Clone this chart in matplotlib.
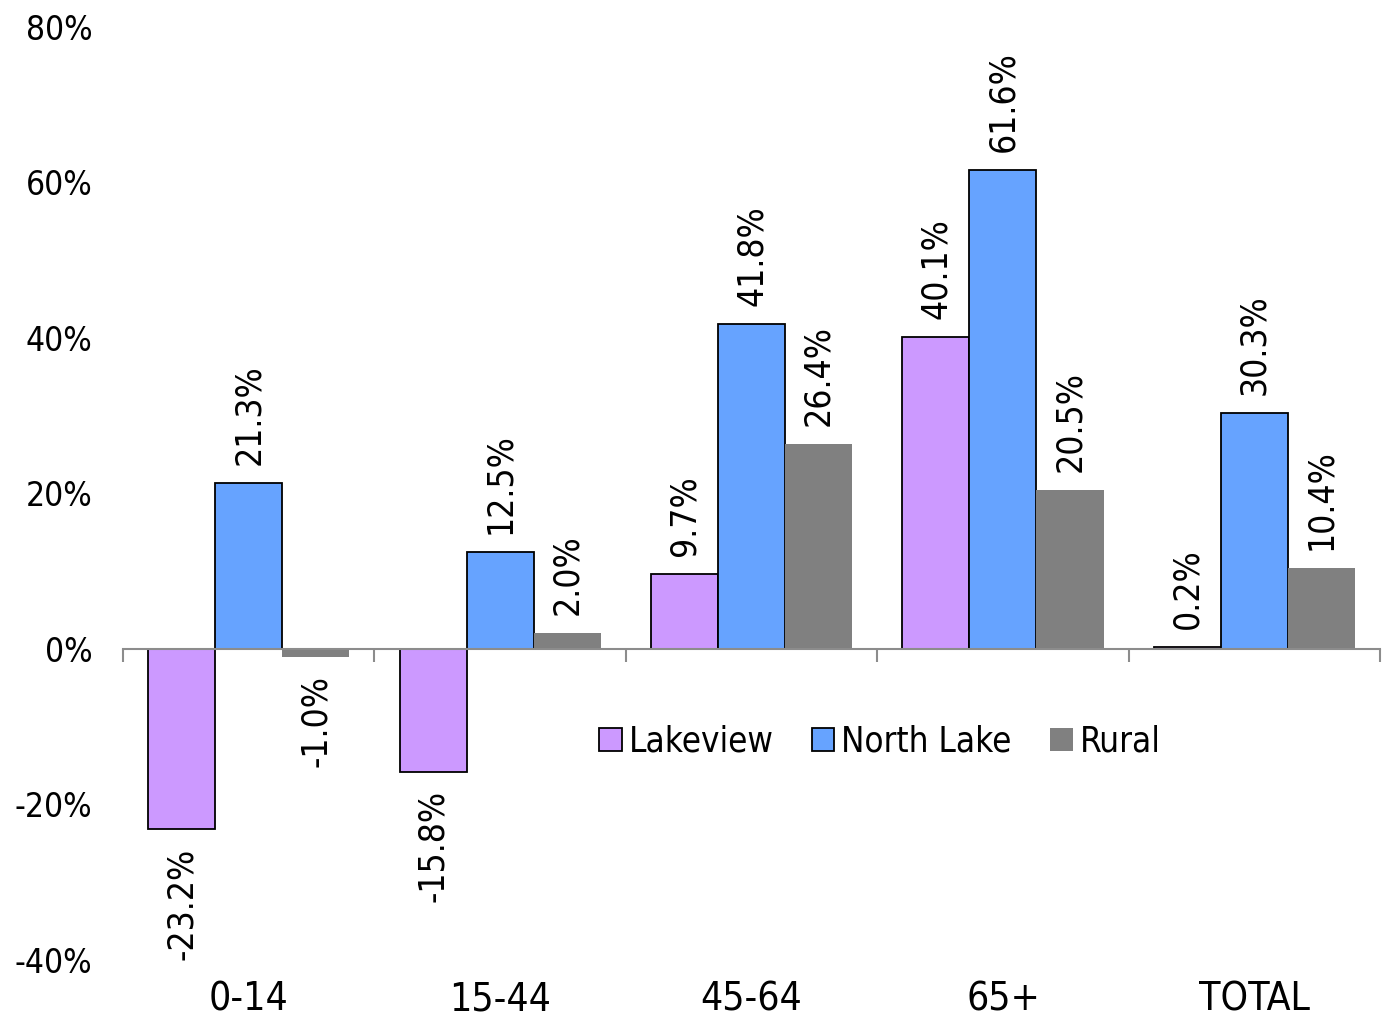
import matplotlib.pyplot as plt
import numpy as np
from matplotlib.ticker import FuncFormatter

# data
groups = ['0-14', '15-44', '45-64', '65+', 'TOTAL']
lakeview = [-23.2, -15.8, 9.7, 40.1, 0.2]
north_lake = [21.3, 12.5, 41.8, 61.6, 30.3]
rural = [-1.0, 2.0, 26.4, 20.5, 10.4]

series = [('Lakeview', lakeview, '#CC99FF', 'black'),
          ('North Lake', north_lake, '#66A3FF', 'black'),
          ('Rural', rural, '#808080', 'none')]

plt.rcParams['font.family'] = ['DejaVu Sans']
plt.rcParams['font.stretch'] = 'condensed'

fig = plt.figure(figsize=(13.82, 10.18), dpi=100)
ax = fig.add_axes([0.089, 0.057, 0.9096, 0.9165])

x = np.arange(len(groups))
w = 0.8 / 3
for i, (name, vals, color, edge) in enumerate(series):
    pos = x + (i - 1) * w
    ax.bar(pos, vals, width=w, color=color, edgecolor=edge,
           linewidth=1.3 if edge != 'none' else 0, label=name, zorder=2)
    for px, v in zip(pos, vals):
        off = 13 if v >= 0 else -13
        ax.annotate(f'{v:.1f}%', (px, v), xytext=(0, off), textcoords='offset points',
                    rotation=90, ha='center', va='bottom' if v >= 0 else 'top',
                    fontsize=25.5)

ax.set_xlim(-0.5, len(groups) - 0.5)
ax.set_ylim(-40, 80)
ax.set_yticks(np.arange(-40, 81, 20))
ax.yaxis.set_major_formatter(FuncFormatter(lambda v, p: f'{v:.0f}%'))
ax.tick_params(axis='y', length=0, pad=22, labelsize=24)

for s in ['left', 'right', 'top']:
    ax.spines[s].set_visible(False)
ax.spines['bottom'].set_position(('data', 0))
ax.spines['bottom'].set_color('#8C8C8C')
ax.spines['bottom'].set_linewidth(1.5)
ax.spines['bottom'].set_zorder(3)

ax.set_xticks(np.arange(-0.5, len(groups), 1.0))
ax.set_xticklabels([])
ax.tick_params(axis='x', direction='out', length=9, width=1.5, color='#8C8C8C')

for xi, g in zip(x, groups):
    ax.annotate(g, (xi, 0), xycoords=('data', 'axes fraction'), xytext=(0, -15),
                textcoords='offset points', ha='center', va='top', fontsize=28)

ax.legend(loc='center', bbox_to_anchor=(0.602, 0.234), ncol=3, frameon=False,
          fontsize=25, handlelength=0.65, handleheight=0.65, handletextpad=0.2,
          columnspacing=1.1)

fig.savefig('out.png', dpi=100)
